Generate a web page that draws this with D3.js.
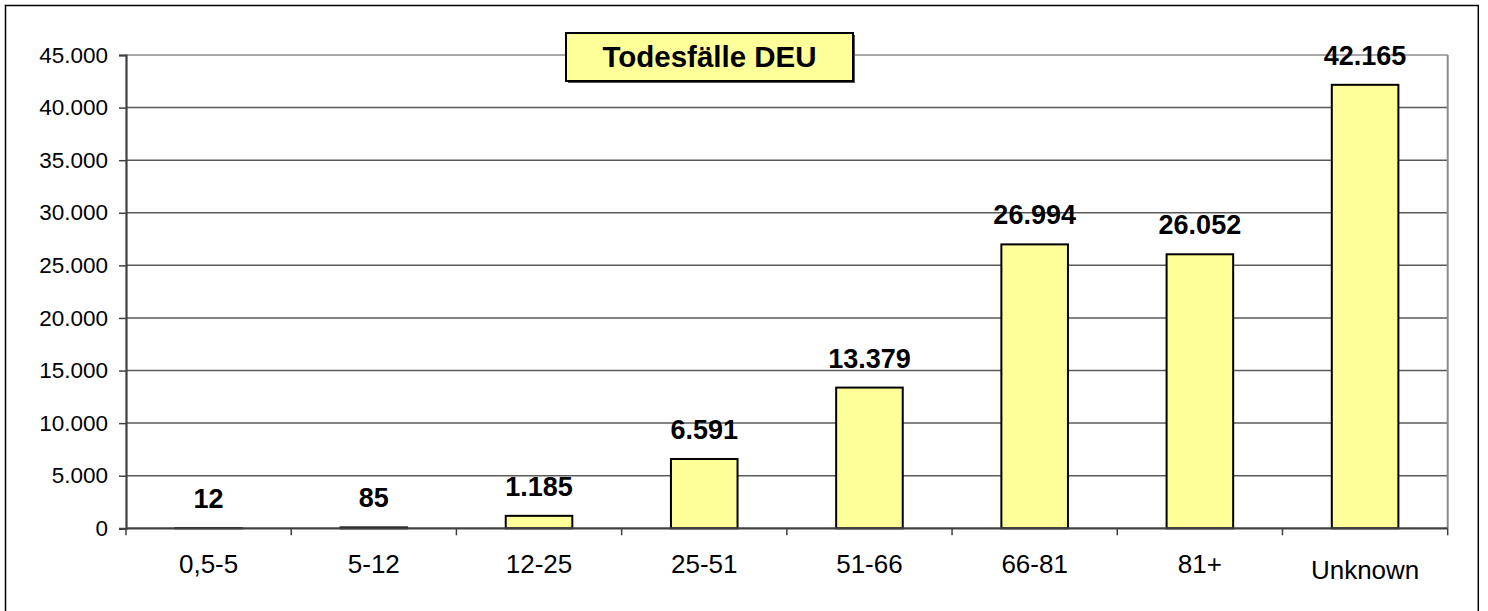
<!DOCTYPE html>
<html>
<head>
<meta charset="utf-8">
<script src="https://cdn.jsdelivr.net/npm/d3@7"></script>
<style>
  html, body { margin: 0; padding: 0; background: #fff; }
  svg { display: block; }
  text { font-family: Arial, "Liberation Sans", sans-serif; }
</style>
</head>
<body>
<svg id="chart" width="1488" height="611"></svg>
<script>
// ---- data ----
const categories = ["0,5-5", "5-12", "12-25", "25-51", "51-66", "66-81", "81+", "Unknown"];
const values = [12, 85, 1185, 6591, 13379, 26994, 26052, 42165];
const yTicks = [0, 5000, 10000, 15000, 20000, 25000, 30000, 35000, 40000, 45000];
const titleText = "Todesfälle DEU";

// ---- layout ----
const W = 1488, H = 611;
const plot = { left: 126, right: 1447.7, top: 55, bottom: 528.3 };

const deFmt = d3.formatLocale({ decimal: ",", thousands: ".", grouping: [3], currency: ["", "€"] }).format(",d");

const svg = d3.select("#chart");

// outer frame (bottom edge falls outside the picture)
svg.append("rect")
  .attr("x", 5.5).attr("y", 5.5)
  .attr("width", 1478.3 - 5.5).attr("height", H + 10)
  .attr("fill", "#fff").attr("stroke", "#000").attr("stroke-width", 1.5);

const x = d3.scaleBand().domain(categories).range([plot.left, plot.right]).padding(0);
const y = d3.scaleLinear().domain([0, 45000]).range([plot.bottom, plot.top]);

// gridlines
svg.append("g").selectAll("line").data(yTicks.filter(d => d > 0)).join("line")
  .attr("x1", plot.left).attr("x2", plot.right)
  .attr("y1", d => y(d)).attr("y2", d => y(d))
  .attr("stroke", d => d === 45000 ? "#8c8c8c" : "#5a5a5a")
  .attr("stroke-width", 1.5);

// plot area right border
svg.append("line")
  .attr("x1", plot.right).attr("x2", plot.right)
  .attr("y1", plot.top).attr("y2", plot.bottom)
  .attr("stroke", "#8c8c8c").attr("stroke-width", 2);

// bars
const barW = x.bandwidth() * 0.403;
svg.append("g").selectAll("rect").data(values).join("rect")
  .attr("x", (d, i) => x(categories[i]) + x.bandwidth() / 2 - barW / 2)
  .attr("y", d => y(d))
  .attr("width", barW)
  .attr("height", d => Math.max(0, y(0) - y(d)))
  .attr("fill", "#FFFF99")
  .attr("stroke", "#000")
  .attr("stroke-width", 2);

// y axis
const yAxis = d3.axisLeft(y).tickValues(yTicks).tickSize(7).tickPadding(11)
  .tickFormat(d => deFmt(d));
const gy = svg.append("g").attr("transform", `translate(${plot.left},0)`).call(yAxis);
gy.select(".domain").attr("stroke", "#404040").attr("stroke-width", 2.2);
gy.selectAll(".tick line").attr("stroke", "#404040").attr("stroke-width", 1.5);
gy.selectAll(".tick text").attr("fill", "#000").style("font-size", "22.5px")
  .style("font-family", "Arial, 'Liberation Sans', sans-serif");

// x axis (ticks at category boundaries)
svg.append("line")
  .attr("x1", plot.left).attr("x2", plot.right)
  .attr("y1", y(0)).attr("y2", y(0))
  .attr("stroke", "#404040").attr("stroke-width", 2.2);
const boundaries = categories.map(c => x(c)).concat([plot.right]);
svg.append("g").selectAll("line").data(boundaries).join("line")
  .attr("x1", d => d).attr("x2", d => d)
  .attr("y1", y(0)).attr("y2", y(0) + 7)
  .attr("stroke", "#404040").attr("stroke-width", 1.5);
svg.append("g").selectAll("text").data(categories).join("text")
  .attr("x", d => x(d) + x.bandwidth() / 2)
  .attr("y", (d, i) => i === categories.length - 1 ? 579 : 573)
  .attr("text-anchor", "middle")
  .style("font-size", "26px")
  .attr("fill", "#000")
  .text(d => d);

// data labels
svg.append("g").selectAll("text").data(values).join("text")
  .attr("x", (d, i) => x(categories[i]) + x.bandwidth() / 2)
  .attr("y", d => y(d) - 20)
  .attr("text-anchor", "middle")
  .style("font-size", "27px")
  .style("font-weight", "bold")
  .attr("fill", "#000")
  .text(d => deFmt(d));

// title box
const tb = { x: 566, y: 33, w: 287, h: 48 };
svg.append("rect")
  .attr("x", tb.x + 2).attr("y", tb.y + 2).attr("width", tb.w).attr("height", tb.h)
  .attr("fill", "#555");
svg.append("rect")
  .attr("x", tb.x).attr("y", tb.y).attr("width", tb.w).attr("height", tb.h)
  .attr("fill", "#FFFF99").attr("stroke", "#000").attr("stroke-width", 2);
svg.append("text")
  .attr("x", tb.x + tb.w / 2).attr("y", 66.5)
  .attr("text-anchor", "middle")
  .style("font-size", "29.5px").style("font-weight", "bold")
  .attr("fill", "#000")
  .text(titleText);
</script>
</body>
</html>
